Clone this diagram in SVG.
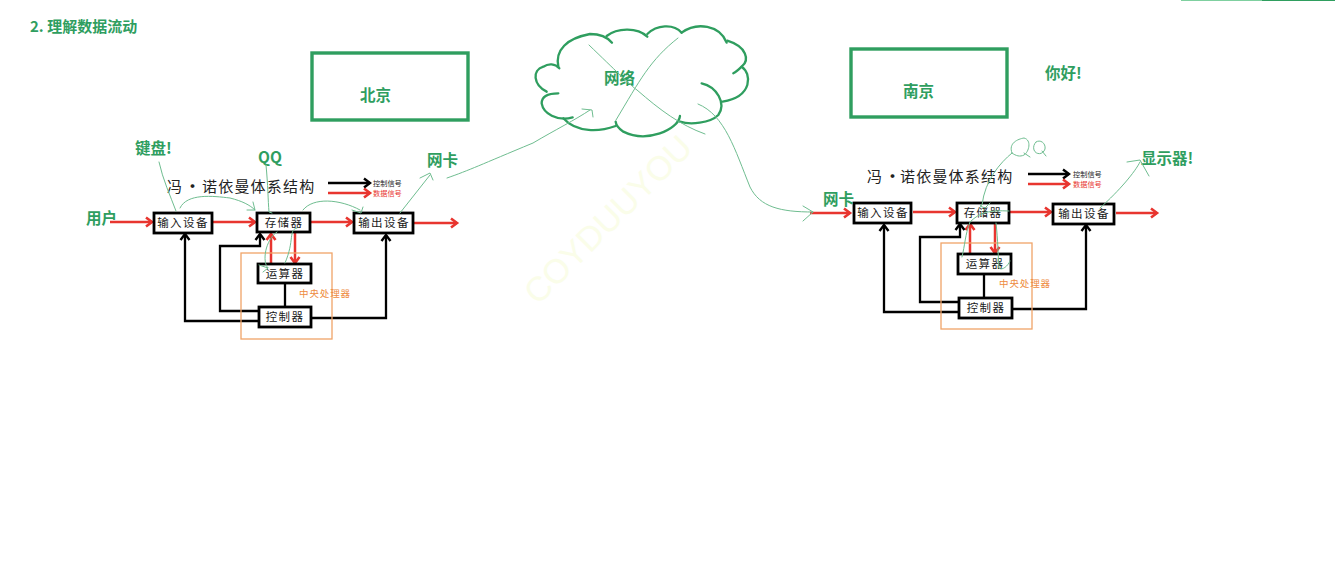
<svg xmlns="http://www.w3.org/2000/svg" width="1335" height="561" viewBox="0 0 1335 561">
<style>
text{font-family:"Noto Sans CJK SC","Noto Sans",sans-serif}
.g{fill:#2f9e5f;font-weight:700;font-size:15.5px}
.frame{fill:none;stroke:#2f9e5f;stroke-width:3.4}
.box{fill:#fff;stroke:#000;stroke-width:2.8}
.bt{fill:#1a1a1a;font-size:11.5px;letter-spacing:1.4px;text-anchor:middle}
.ttl{fill:#222;font-size:15px;letter-spacing:1.2px}
.k{fill:none;stroke:#000;stroke-width:2.3;marker-end:url(#ka)}
.kn{fill:none;stroke:#000;stroke-width:2.3}
.r{fill:none;stroke:#e8352f;stroke-width:2.5;marker-end:url(#ra)}
.o{fill:none;stroke:#f0a468;stroke-width:1.3}
.ot{fill:#ee8b3e;font-size:9.5px;letter-spacing:.9px}
.lg{font-size:7.2px}
.t{fill:none;stroke:#6fbd90;stroke-width:1;stroke-linecap:round;stroke-linejoin:round}
.c{fill:none;stroke:#2f9e5f;stroke-width:7;stroke-linecap:round}
</style>
<defs>
<marker id="ka" markerUnits="userSpaceOnUse" markerWidth="12" markerHeight="12" refX="9" refY="6" orient="auto"><path d="M3 1.5 9 6 3 10.500" fill="none" stroke="#000" stroke-width="2.400"/></marker>
<marker id="ra" markerUnits="userSpaceOnUse" markerWidth="12" markerHeight="12" refX="9" refY="6" orient="auto"><path d="M3 1.500 9 6 3 10.500" fill="none" stroke="#e8352f" stroke-width="2.600"/></marker>
</defs>
<rect width="1335" height="561" fill="#fff"/>
<rect x="1181" y="0" width="81" height="1" fill="#7fd0a0"/><rect x="1262" y="0" width="73" height="1" fill="#2f9e5f"/>
<text x="30" y="32" class="g" style="font-size:15px">2. 理解数据流动</text>
<text x="0" y="0" transform="translate(538,306) rotate(-45)" fill="#fafde9" font-size="34" style="font-family:'Liberation Sans',sans-serif">COYDUUYOU</text>

<g id="beijing"><rect class="frame" x="312" y="53" width="156" height="67"/><text class="g" x="360" y="101">北京</text></g>
<g id="nanjing"><rect class="frame" x="851" y="49" width="156" height="68"/><text class="g" x="903" y="97">南京</text></g>
<g id="hello"><text class="g" x="1045" y="79">你好!</text></g>

<g id="cloud" transform="translate(440,10) scale(.3333)">
<path class="c" d="M355 170C345 120 380 85 450 72C485 72 505 85 516 98"/>
<path class="c" d="M500 78C530 55 590 50 622 80"/>
<path class="c" d="M622 72C650 45 700 40 725 68"/>
<path class="c" d="M725 68C770 35 840 45 860 98"/>
<path class="c" d="M862 92C920 110 930 150 905 170C895 180 888 186 880 190"/>
<path class="c" d="M905 170C935 190 940 260 848 275"/>
<path class="c" d="M785 220C830 230 860 280 835 315C810 340 750 345 720 335"/>
<path class="c" d="M720 318C715 360 620 400 550 365C535 355 528 345 527 335"/>
<path class="c" d="M527 348C480 365 410 370 370 325"/>
<path class="c" d="M398 322C350 335 310 310 305 280C305 260 320 250 355 250"/>
<path class="c" d="M320 245C280 225 275 180 310 170C325 160 345 160 358 175"/>
</g>
<text id="net" class="g" x="604" y="84">网络</text>

<g id="connectors-left">
<path class="r" d="M110 222H152"/><path class="r" d="M213 222H255"/><path class="r" d="M311 222H352"/><path class="r" d="M414 223H457"/>
<path class="r" d="M271 263V234"/><path class="r" d="M295 232V263"/>
<path class="k" d="M259 321H185V234"/><path class="k" d="M259 311H220V246H260V234"/><path class="k" d="M311 318H386V235"/><path class="kn" d="M285 283V307"/>
<path class="k" d="M328 183H370"/><path class="r" d="M328 193H370"/>
</g>
<g id="connectors-right">
<path class="r" d="M810 213H850"/><path class="r" d="M913 212H955"/><path class="r" d="M1010 212H1051"/><path class="r" d="M1116 213H1157"/>
<path class="r" d="M970 253V224"/><path class="r" d="M995 223V253"/>
<path class="k" d="M959 312H884V225"/><path class="k" d="M959 302H920V237H960V224"/><path class="k" d="M1012 309H1086V225"/><path class="kn" d="M984 274V297"/>
<path class="k" d="M1028 174H1069"/><path class="r" d="M1028 184H1069"/>
</g>

<g id="cpu-left"><rect class="o" x="241" y="253" width="91" height="86"/><text class="ot" x="299" y="297">中央处理器</text></g>
<g id="cpu-right"><rect class="o" x="941" y="243" width="91" height="86"/><text class="ot" x="999" y="287">中央处理器</text></g>

<g id="input-left"><rect class="box" x="154" y="213" width="58" height="20"/><text class="bt" x="183" y="227">输入设备</text></g>
<g id="memory-left"><rect class="box" x="257" y="213" width="53" height="19"/><text class="bt" x="284" y="227">存储器</text></g>
<g id="output-left"><rect class="box" x="354" y="213" width="59" height="20"/><text class="bt" x="384" y="227">输出设备</text></g>
<g id="alu-left"><rect class="box" x="258" y="264" width="53" height="19"/><text class="bt" x="285" y="278">运算器</text></g>
<g id="ctrl-left"><rect class="box" x="259" y="307" width="52" height="20"/><text class="bt" x="285" y="321">控制器</text></g>
<g id="input-right"><rect class="box" x="854" y="203" width="57" height="20"/><text class="bt" x="883" y="217">输入设备</text></g>
<g id="memory-right"><rect class="box" x="957" y="203" width="52" height="20"/><text class="bt" x="983" y="217">存储器</text></g>
<g id="output-right"><rect class="box" x="1053" y="204" width="61" height="20"/><text class="bt" x="1084" y="218">输出设备</text></g>
<g id="alu-right"><rect class="box" x="958" y="254" width="53" height="20"/><text class="bt" x="985" y="268">运算器</text></g>
<g id="ctrl-right"><rect class="box" x="959" y="298" width="53" height="20"/><text class="bt" x="986" y="312">控制器</text></g>

<text class="ttl" x="167" y="192">冯<tspan x="185" font-weight="700">·</tspan><tspan x="202">诺依曼体系结构</tspan></text>
<text class="ttl" x="867" y="182">冯<tspan x="885" font-weight="700">·</tspan><tspan x="900">诺依曼体系结构</tspan></text>
<text class="lg" x="373" y="186" fill="#222">控制信号</text><text class="lg" x="373" y="196" fill="#e8352f">数据信号</text>
<text class="lg" x="1073" y="177" fill="#222">控制信号</text><text class="lg" x="1073" y="187" fill="#e8352f">数据信号</text>

<text class="g" x="86" y="224">用户</text>
<text class="g" x="135" y="154">键盘!</text>
<text class="g" x="258" y="163">QQ</text>
<text class="g" x="427" y="166">网卡</text>
<text class="g" x="823" y="205">网卡</text>
<text class="g" x="1141" y="164">显示器!</text>

<g id="handwriting">
<path class="t" d="M159 162C163 180 170 195 176 211"/>
<path class="t" d="M180 208C187 193 213 196 230 198C242 201 250 205 255 210M253 202 255 210 247 210"/>
<path class="t" d="M266 165C268 185 268 200 269 212L272 213"/>
<path class="t" d="M277 232C265 240 262 262 268 268L259 265M268 268 263 272"/>
<path class="t" d="M297 228C288 230 295 240 285 263"/>
<path class="t" d="M303 210C313 197 340 199 360 210M363 207 361 213 352 210"/>
<path class="t" d="M400 213L430 175M420 178 430 173 433 180"/>
<path class="t" d="M447 178C470 170 480 165 533 143C555 130 575 120 590 110M582 109 592 110 593 117"/>
<path class="t" d="M589 45C615 70 630 85 637 90C660 110 680 125 705 134"/>
<path class="t" d="M678 38C650 60 640 80 616 120"/>
<path class="t" d="M698 104C725 115 735 150 750 187C760 207 780 212 813 212M803 206 813 212 803 221"/>
<path class="t" d="M1012 153C1008 143 1018 139 1024 138C1032 140 1029 152 1024 155C1020 157 1016 156 1012 153M1024 153 1030 157"/>
<path class="t" d="M1036 142C1040 139 1046 143 1045 149C1043 155 1036 155 1034 150C1033 147 1034 144 1036 142M1042 151 1046 156"/>
<path class="t" d="M1012 153C1000 163 985 180 982 205L980 206 985 208 990 203"/>
<path class="t" d="M1009 211C990 210 980 212 970 222C965 235 965 245 962 257"/>
<path class="t" d="M996 223C998 240 998 255 999 268C1002 271 1008 266 1010 261"/>
<path class="t" d="M1100 208C1120 190 1135 172 1140 162M1127 162 1140 160 1149 176"/>
</g>
</svg>
